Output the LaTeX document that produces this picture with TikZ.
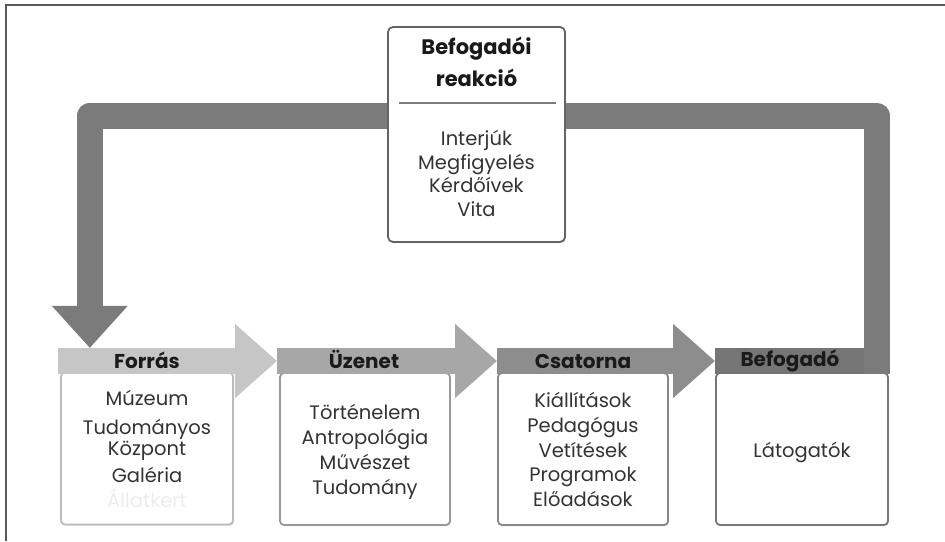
\documentclass[tikz,border=0pt]{standalone}
\usepackage{fontspec}
\setmainfont{Poppins}
\usetikzlibrary{calc,shadows}

\definecolor{frameline}{HTML}{5A5A5A}
\definecolor{loopc}{HTML}{7B7B7B}
\definecolor{bandA}{HTML}{C6C6C6}
\definecolor{bandB}{HTML}{A7A7A7}
\definecolor{bandC}{HTML}{8D8D8D}
\definecolor{bandD}{HTML}{757575}
\definecolor{edgeA}{HTML}{BBBBBB}
\definecolor{edgeB}{HTML}{999999}
\definecolor{edgeC}{HTML}{888888}
\definecolor{edgeD}{HTML}{777777}
\definecolor{edgeTop}{HTML}{646464}
\definecolor{headtxt}{HTML}{1A1A1A}
\definecolor{itemtxt}{HTML}{333333}
\definecolor{ghost}{HTML}{EDEDED}

\begin{document}
\begin{tikzpicture}[x=1pt,y=-1pt,
  body/.style={draw=#1, line width=1.8pt, rounded corners=4pt, fill=white,
    minimum height=152pt, inner sep=0pt,
    drop shadow={shadow xshift=1pt,shadow yshift=-1pt,opacity=0.25}},
  band/.style={fill=#1, minimum height=26pt, inner sep=0pt},
  txt/.style={inner sep=0pt, text height=0.72em, text depth=0.22em, yshift=-5pt},
  headlbl/.style={txt, font=\bfseries\fontsize{20}{20}\selectfont, text=headtxt},
  item/.style={txt, font=\fontsize{19.5}{19.5}\selectfont, text=itemtxt},
  topbox/.style={draw=edgeTop, line width=1.8pt, rounded corners=5pt, fill=white,
    minimum width=177pt, minimum height=215pt, inner sep=0pt,
    drop shadow={shadow xshift=1pt,shadow yshift=-1pt,opacity=0.25}},
  toptitle/.style={txt, font=\bfseries\fontsize{21}{21}\selectfont, text=headtxt}
]
\useasboundingbox (0,0) rectangle (945,541);

% outer frame (top and left edges)
\draw[frameline, line width=2pt] (5.5,541) -- (5.5,4.5) -- (945,4.5);

% stage bodies
\node[body=edgeA, minimum width=172pt] (src)  at (147,448.5) {};
\node[body=edgeB, minimum width=170pt] (msg)  at (365,449) {};
\node[body=edgeC, minimum width=170pt] (chan) at (583,449) {};
\node[body=edgeD, minimum width=172pt] (recv) at (802,449) {};

% header bands
\node[band=bandA, minimum width=177pt] (srcH)  at (146.5,361) {};
\node[band=bandB, minimum width=178pt] (msgH)  at (366,361) {};
\node[band=bandC, minimum width=176pt] (chanH) at (585,361) {};
\node[band=bandD, minimum width=175pt] (recvH) at (802.5,361) {};

% chevron heads leading from each stage into the next
\fill[bandA] ($(srcH.east)+(0,-37)$) -- (msgH.west) -- ($(srcH.east)+(0,37)$) -- cycle;
\fill[bandB] ($(msgH.east)+(0,-37)$) -- (chanH.west) -- ($(msgH.east)+(0,37)$) -- cycle;
\fill[bandC] ($(chanH.east)+(0,-37)$) -- (recvH.west) -- ($(chanH.east)+(0,37)$) -- cycle;

% feedback loop from the audience back to the source
\coordinate (tip) at ($(srcH.north west)+(32,0)$);
\coordinate (loopStart) at ($(recvH.south east)+(-13.5,0)$);
\coordinate (loopEnd) at ($(tip)+(0,-42)$);
\draw[loopc, line width=26pt, line join=round]
  (loopStart) -- (loopStart |- 0,115.5) -- (loopEnd |- 0,115.5) -- (loopEnd);
\fill[loopc] ($(loopEnd)+(-38,0)$) -- (tip) -- ($(loopEnd)+(38,0)$) -- cycle;

% header labels
\node[headlbl] (srcL)  at (147,361) {Forrás};
\node[headlbl] (msgL)  at (364,361) {Üzenet};
\node[headlbl] (chanL) at (583,361) {Csatorna};
\node[headlbl] (recvL) at (790,359) {Befogadó};

% feedback box
\node[topbox] (rx) at (476.5,134.5) {};
\node[toptitle] (rxT1) at (476.5,47) {Befogadói};
\node[toptitle] (rxT2) at (476.5,79) {reakció};
\draw[loopc, line width=2pt] ($(rx.west)+(12,-31.5)$) coordinate (divL) -- ($(rx.east)+(-10,-31.5)$) coordinate (divR);
\node[item] (rx1) at (476.5,138) {Interjúk};
\node[item] (rx2) at (476.5,162) {Megfigyelés};
\node[item] (rx3) at (476.5,185) {Kérdőívek};
\node[item] (rx4) at (476.5,209) {Vita};

% source items
\node[item] (s1) at (147,398) {Múzeum};
\node[item] (s2) at (147,427) {Tudományos};
\node[item] (s3) at (147,448) {Központ};
\node[item] (s4) at (147,475) {Galéria};
\node[item, text=ghost] (s5) at (147,500) {Állatkert};

% message items
\node[item] (m1) at (365,412) {Történelem};
\node[item] (m2) at (365,437) {Antropológia};
\node[item] (m3) at (365,462) {Művészet};
\node[item] (m4) at (365,487) {Tudomány};

% channel items
\node[item] (c1) at (583,400) {Kiállítások};
\node[item] (c2) at (583,425) {Pedagógus};
\node[item] (c3) at (583,450) {Vetítések};
\node[item] (c4) at (583,474) {Programok};
\node[item] (c5) at (583,499) {Előadások};

% audience item
\node[item] (r1) at (802,450) {Látogatók};
\end{tikzpicture}
\end{document}
